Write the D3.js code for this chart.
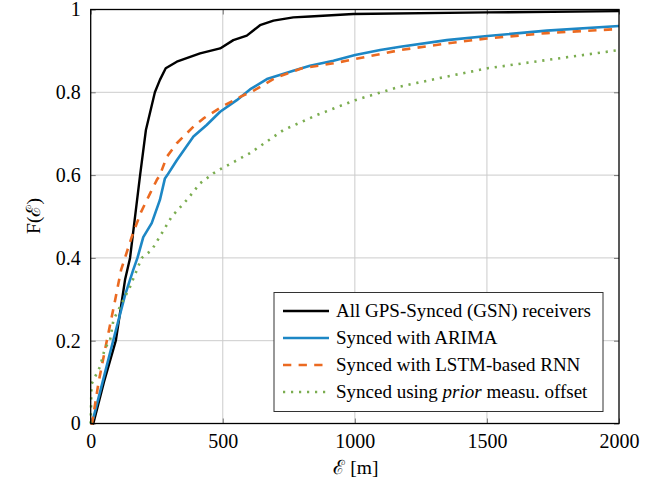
<!DOCTYPE html>
<html lang="en">
<head>
<meta charset="UTF-8">
<title>CDF of error</title>
<script src="https://cdn.jsdelivr.net/npm/d3@7"></script>
<style>
  body { margin: 0; background: #fff; }
  text { font-family: "Liberation Serif", "Times New Roman", serif; fill: #000; }
</style>
</head>
<body>
<svg id="chart" width="667" height="489"></svg>
<script>
// error distance [m] and CDF values
const gsnX   = [0, 10, 50, 95, 130, 149, 187, 209, 243, 262, 284, 326, 414, 490, 540, 591, 641, 692, 767, 830, 994, 1500, 2000]
const gsnY   = [0, 0.0, 0.1, 0.2, 0.347, 0.4, 0.6, 0.709, 0.8, 0.83, 0.858, 0.874, 0.894, 0.906, 0.926, 0.937, 0.962, 0.973, 0.981, 0.983, 0.989, 0.993, 0.996]

const arimaX = [0, 10, 45, 85, 130, 161, 177, 199, 231, 262, 281, 290, 326, 389, 439, 490, 553, 603, 667, 767, 830, 919, 1001, 1096, 1172, 1348, 1502, 1727, 2000]
const arimaY = [0, 0.013, 0.1, 0.2, 0.31, 0.371, 0.4, 0.45, 0.484, 0.54, 0.592, 0.6, 0.636, 0.693, 0.721, 0.753, 0.781, 0.807, 0.832, 0.852, 0.864, 0.876, 0.89, 0.902, 0.91, 0.926, 0.936, 0.949, 0.96]

const lstmX  = [0, 5, 30, 61, 90, 115, 155, 190, 225, 250, 262, 288, 326, 351, 389, 427, 502, 566, 620, 700, 800, 919, 1172, 1348, 1500, 1727, 2000]
const lstmY  = [0, 0.0, 0.1, 0.2, 0.29, 0.371, 0.45, 0.51, 0.556, 0.588, 0.6, 0.644, 0.677, 0.693, 0.717, 0.737, 0.767, 0.789, 0.805, 0.835, 0.858, 0.87, 0.902, 0.918, 0.93, 0.943, 0.953]

const priorX = [0, 3, 35, 54, 73, 86, 117, 149, 193, 231, 307, 364, 414, 464, 496, 603, 730, 856, 1001, 1172, 1348, 1502, 1727, 2000]
const priorY = [0, 0.095, 0.137, 0.182, 0.2, 0.25, 0.29, 0.33, 0.4, 0.419, 0.5, 0.54, 0.58, 0.604, 0.616, 0.653, 0.709, 0.745, 0.781, 0.814, 0.838, 0.858, 0.878, 0.902]

const xTicks = [0, 500, 1000, 1500, 2000]
const yTicks = [0, 0.2, 0.4, 0.6, 0.8, 1]
const yTickLabels = ['0', '0.2', '0.4', '0.6', '0.8', '1']

const seriesNames = [
  'All GPS-Synced (GSN) receivers',
  'Synced with ARIMA',
  'Synced with LSTM-based RNN',
  'Synced using <i>prior</i> measu. offset'
]

const plotLeft = 90.7, plotRight = 619, plotTop = 9.5, plotBottom = 423.5

const svg = d3.select('#chart')

const x = d3.scaleLinear().domain([0, 2000]).range([plotLeft, plotRight])
const y = d3.scaleLinear().domain([0, 1]).range([plotBottom, plotTop])

// grid
const grid = svg.append('g')
grid.selectAll('.vgrid')
  .data(xTicks.slice(1, -1))
  .enter()
  .append('line')
  .attr('x1', d => x(d)).attr('x2', d => x(d))
  .attr('y1', plotTop).attr('y2', plotBottom)
  .attr('stroke', '#cccccc')
  .attr('stroke-width', 1)
grid.selectAll('.hgrid')
  .data(yTicks.slice(1, -1))
  .enter()
  .append('line')
  .attr('x1', plotLeft).attr('x2', plotRight)
  .attr('y1', d => y(d)).attr('y2', d => y(d))
  .attr('stroke', '#cccccc')
  .attr('stroke-width', 1)

// axes via d3 (ticks inward, both sides)
svg.append('g')
  .attr('transform', `translate(0,${plotBottom})`)
  .call(d3.axisBottom(x).tickValues(xTicks).tickSize(-5).tickPadding(10).tickFormat(d3.format('d')))
svg.append('g')
  .attr('transform', `translate(0,${plotTop})`)
  .call(d3.axisTop(x).tickValues(xTicks).tickSize(-5).tickFormat(''))
svg.append('g')
  .attr('transform', `translate(${plotLeft},0)`)
  .call(d3.axisLeft(y).tickValues(yTicks).tickSize(-5).tickPadding(10).tickFormat((d, i) => yTickLabels[i]))
svg.append('g')
  .attr('transform', `translate(${plotRight},0)`)
  .call(d3.axisRight(y).tickValues(yTicks).tickSize(-5).tickFormat(''))

svg.selectAll('.domain').remove()
svg.selectAll('.tick line').attr('stroke', '#777').attr('stroke-width', 1)
svg.selectAll('.tick text')
  .style('font-family', '"Liberation Serif", serif')
  .style('font-size', '20px')
  .attr('fill', '#000')

// curves
const line = d3.line().x(d => x(d[0])).y(d => y(d[1]))
const curves = [
  { xs: gsnX, ys: gsnY, color: '#000000', width: 2.4, dash: null },
  { xs: arimaX, ys: arimaY, color: '#1d87c5', width: 2.6, dash: null },
  { xs: lstmX, ys: lstmY, color: '#eb6a21', width: 2.6, dash: '8.3,7.3' },
  { xs: priorX, ys: priorY, color: '#7bad50', width: 2.6, dash: '2.2,5.8' }
]
const plot = svg.append('g')
plot.selectAll('path')
  .data(curves)
  .enter()
  .append('path')
  .attr('d', d => line(d.xs.map((v, i) => [v, d.ys[i]])))
  .attr('fill', 'none')
  .attr('stroke', d => d.color)
  .attr('stroke-width', d => d.width)
  .attr('stroke-dasharray', d => d.dash)
  .attr('stroke-linejoin', 'round')

// frame
svg.append('rect')
  .attr('x', plotLeft).attr('y', plotTop)
  .attr('width', plotRight - plotLeft).attr('height', plotBottom - plotTop)
  .attr('fill', 'none')
  .attr('stroke', '#000')
  .attr('stroke-width', 1.3)

// legend
const legend = svg.append('g')
legend.append('rect')
  .attr('x', 274).attr('y', 292.5)
  .attr('width', 329).attr('height', 119)
  .attr('fill', '#fff')
  .attr('stroke', '#333')
  .attr('stroke-width', 1)

const rowY = i => 311 + i * 27
legend.selectAll('.lg-line')
  .data(curves)
  .enter()
  .append('line')
  .attr('x1', 283).attr('x2', 329)
  .attr('y1', (d, i) => rowY(i)).attr('y2', (d, i) => rowY(i))
  .attr('stroke', d => d.color)
  .attr('stroke-width', d => d.width)
  .attr('stroke-dasharray', d => d.dash)

legend.selectAll('.lg-text')
  .data(seriesNames)
  .enter()
  .append('text')
  .attr('x', 336)
  .attr('y', (d, i) => rowY(i) + 6)
  .style('font-size', '19px')
  .html(d => d.replace('<i>', '<tspan font-style="italic">').replace('</i>', '</tspan>'))

// axis titles
svg.append('text')
  .attr('x', 356).attr('y', 474)
  .attr('text-anchor', 'middle')
  .style('font-size', '19.5px')
  .text('ℰ [m]')

svg.append('text')
  .attr('transform', 'translate(40,216) rotate(-90)')
  .attr('text-anchor', 'middle')
  .style('font-size', '19.5px')
  .text('F(ℰ)')
</script>
</body>
</html>
